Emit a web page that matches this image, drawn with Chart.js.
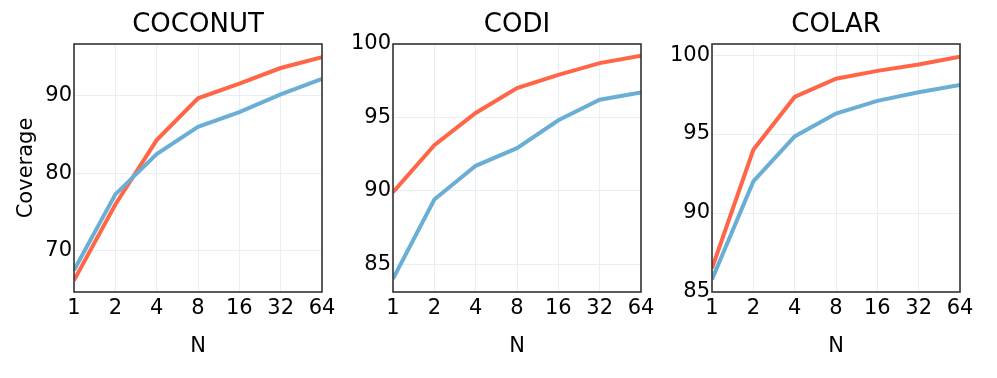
<!DOCTYPE html>
<html>

<head>
    <title>Coverage vs N</title>
    <script src="https://cdn.jsdelivr.net/npm/chart.js"></script>
    <style>
        body { margin: 0; background: #fff; }
        #wrap { position: relative; width: 997px; height: 378px; }
        canvas { position: absolute; left: 0; top: 0; }
    </style>
</head>

<body>
    <div id="wrap">
        <canvas id="c1" width="997" height="378"></canvas>
        <canvas id="c2" width="997" height="378"></canvas>
        <canvas id="c3" width="997" height="378"></canvas>
    </div>
    <script>
        // x categories (N, log2 spaced)
        const nLabels = ['1', '2', '4', '8', '16', '32', '64'];

        // COCONUT
        const coconutRed = [66.2, 76.0, 84.3, 89.7, 91.6, 93.6, 95.0];
        const coconutBlue = [67.5, 77.3, 82.5, 86.0, 87.9, 90.2, 92.2];
        // CODI
        const codiRed = [89.9, 93.1, 95.3, 97.0, 97.9, 98.7, 99.2];
        const codiBlue = [84.0, 89.4, 91.7, 92.9, 94.8, 96.2, 96.7];
        // COLAR
        const colarRed = [86.5, 94.0, 97.35, 98.5, 99.0, 99.4, 99.9];
        const colarBlue = [85.8, 92.0, 94.85, 96.3, 97.1, 97.65, 98.1];

        const RED = '#ff6647';
        const BLUE = '#6aaed6';
        const GRID = '#e8eef6';
        const FONT = 'DejaVu Sans';

        // dark box round the plot area
        const frame = {
            id: 'frame',
            afterDraw(chart) {
                const a = chart.chartArea;
                const ctx = chart.ctx;
                ctx.save();
                ctx.strokeStyle = '#333';
                ctx.lineWidth = 1.6;
                ctx.strokeRect(a.left, a.top, a.right - a.left, a.bottom - a.top);
                ctx.restore();
            }
        };

        function makeChart(id, title, red, blue, yMin, yMax, step, padLeft, padRight, yWidth, yTitle) {
            new Chart(document.getElementById(id), {
                type: 'line',
                data: {
                    labels: nLabels,
                    datasets: [
                        { data: blue, borderColor: BLUE, borderWidth: 4, pointRadius: 0, tension: 0, clip: 0 },
                        { data: red, borderColor: RED, borderWidth: 4, pointRadius: 0, tension: 0, clip: 0 }
                    ]
                },
                options: {
                    responsive: false,
                    animation: false,
                    layout: { padding: { left: padLeft, right: padRight, top: 0, bottom: 15 } },
                    plugins: {
                        legend: { display: false },
                        tooltip: { enabled: false },
                        title: {
                            display: true,
                            text: title,
                            fullSize: false,
                            color: '#000',
                            font: { family: FONT, size: 26, weight: 'normal' },
                            padding: { top: 10, bottom: 2.8 }
                        }
                    },
                    scales: {
                        x: {
                            type: 'category',
                            offset: false,
                            grid: { color: GRID, drawTicks: false, offset: false },
                            border: { display: false },
                            ticks: { color: '#000', padding: 4, maxRotation: 0, autoSkip: false, font: { family: FONT, size: 21 } },
                            title: { display: true, text: 'N', color: '#000', font: { family: FONT, size: 21 } },
                            afterFit: s => { s.height = 71; }
                        },
                        y: {
                            min: yMin,
                            max: yMax,
                            grid: { color: GRID, drawTicks: false },
                            border: { display: false },
                            ticks: { stepSize: step, includeBounds: false, color: '#000', padding: 2, font: { family: FONT, size: 21 } },
                            title: { display: !!yTitle, text: yTitle || '', color: '#000', font: { family: FONT, size: 21 } },
                            afterFit: s => { s.width = yWidth; }
                        }
                    }
                },
                plugins: [frame]
            });
        }

        makeChart('c1', 'COCONUT', coconutRed, coconutBlue, 64.7, 96.7, 10, 10, 675, 64, 'Coverage');
        makeChart('c2', 'CODI', codiRed, codiBlue, 83.1, 100, 5, 343, 356, 50);
        makeChart('c3', 'COLAR', colarRed, colarBlue, 85, 100.7, 5, 662, 37, 50);
    </script>
</body>

</html>
